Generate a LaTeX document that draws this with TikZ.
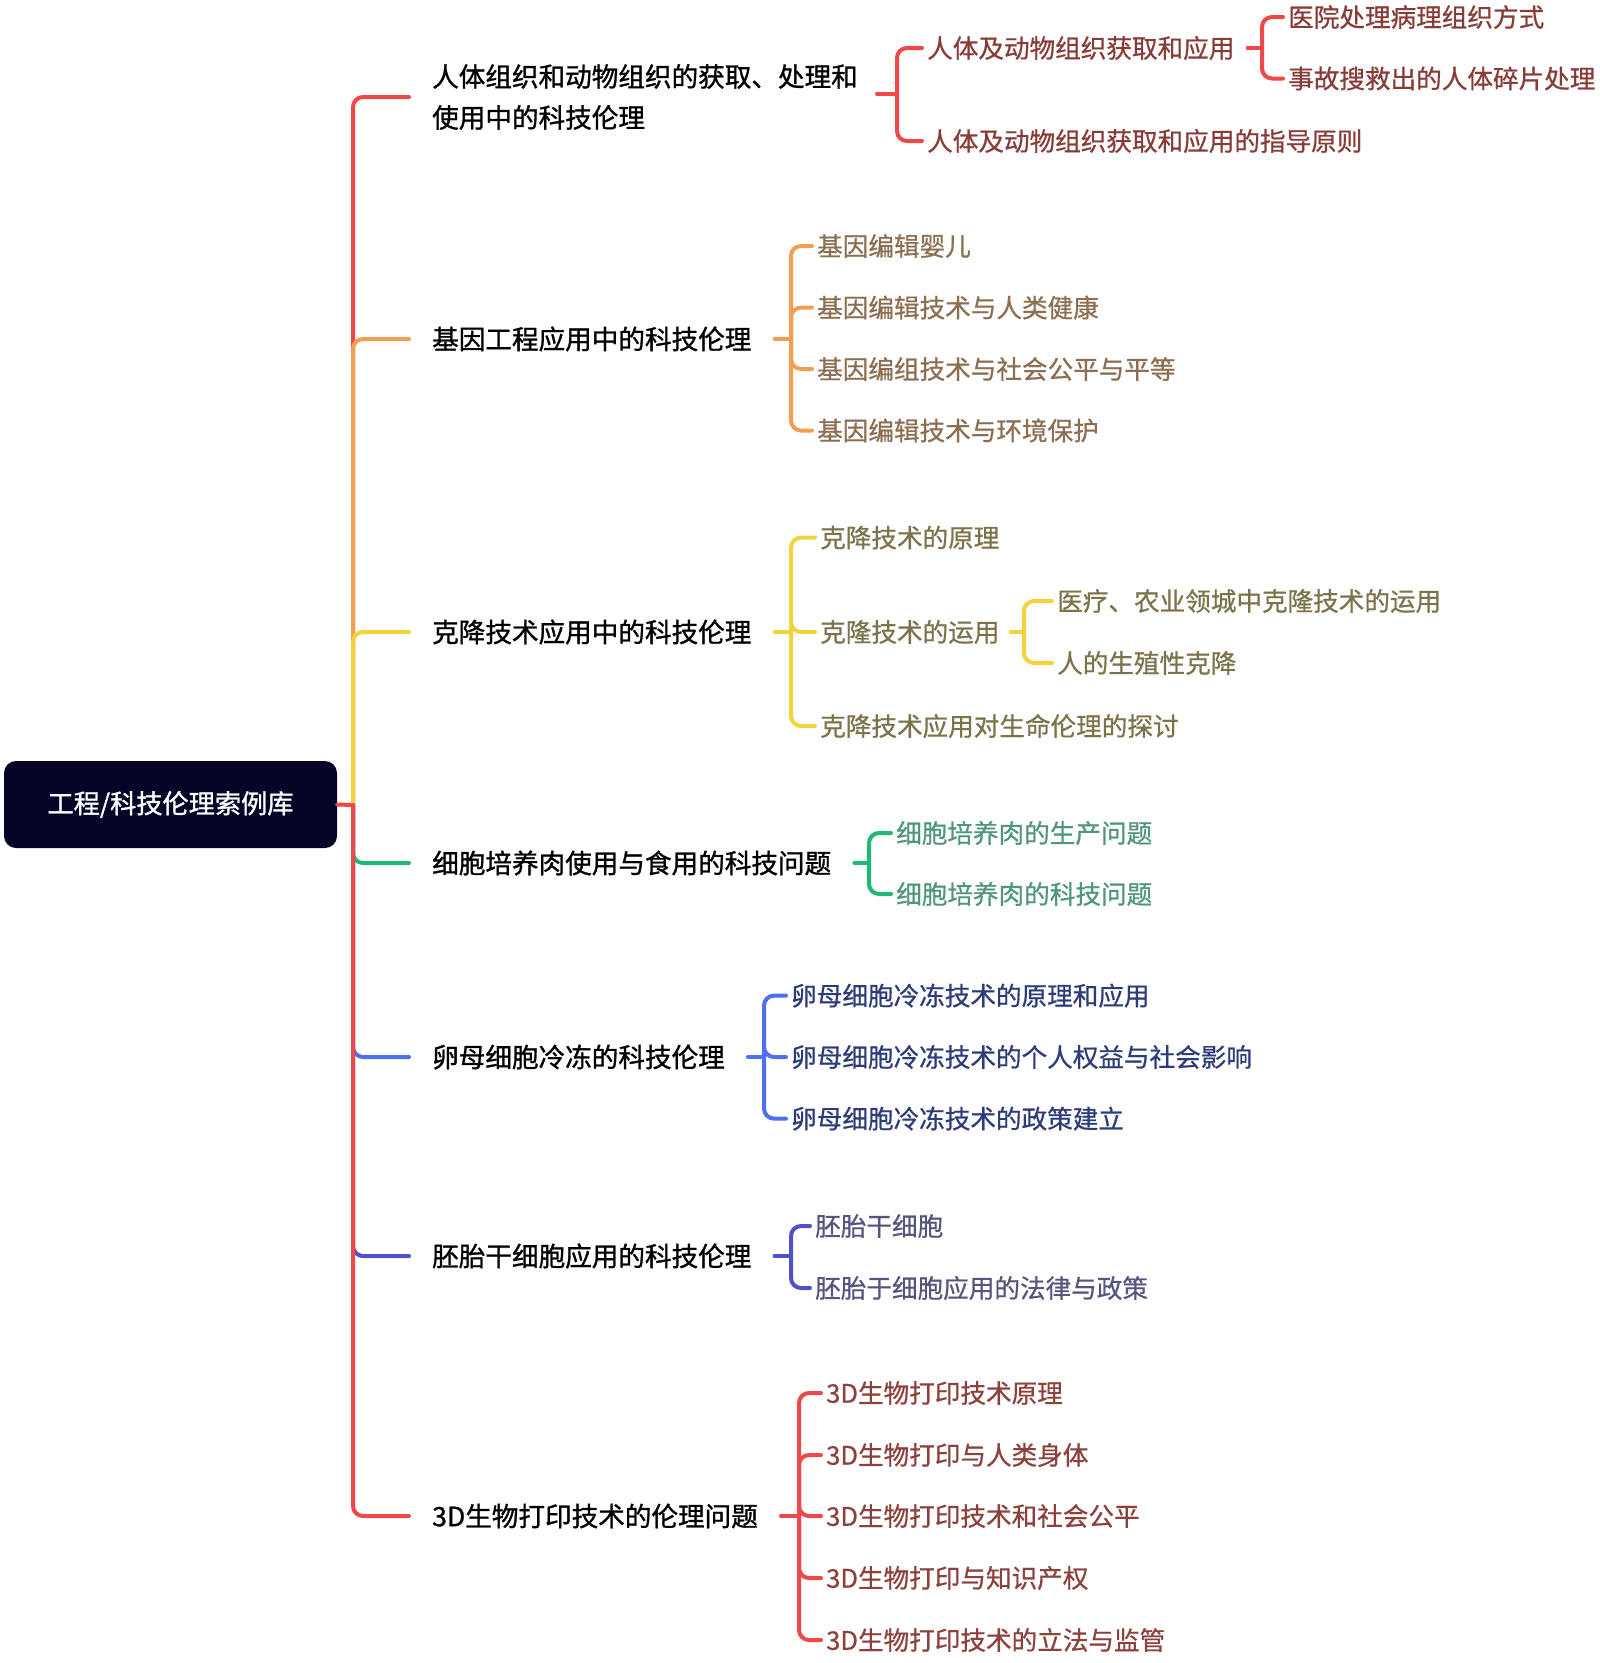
\documentclass[tikz,border=0pt]{standalone}
\usepackage{fontspec}
\newfontfamily\cjkmain{Noto Sans CJK SC}[FakeBold=1.1]
\newfontfamily\cjksub{Noto Sans CJK SC}[FakeBold=0.7]
\definecolor{lred}{HTML}{F04848}
\definecolor{tred}{HTML}{873C37}
\definecolor{lorange}{HTML}{F0A050}
\definecolor{torange}{HTML}{8C6E50}
\definecolor{lyellow}{HTML}{F5D23C}
\definecolor{tyellow}{HTML}{7D734B}
\definecolor{lgreen}{HTML}{1EB973}
\definecolor{tgreen}{HTML}{509678}
\definecolor{lblue}{HTML}{506EF0}
\definecolor{tblue}{HTML}{2D3C78}
\definecolor{lpurple}{HTML}{5050C8}
\definecolor{tpurple}{HTML}{55557D}
\definecolor{tred2}{HTML}{8C413C}
\definecolor{rootc}{HTML}{050528}
\tikzset{
  conn/.style={line width=4, line cap=round, rounded corners=10},
  mainnode/.style={anchor=west, inner xsep=23, inner ysep=2, text=black, align=left,
    font=\cjkmain\fontsize{26.6}{41}\selectfont},
  subnode/.style={anchor=west, inner xsep=5, inner ysep=2,
    font=\cjksub\fontsize{25.6}{30}\selectfont},
  rootnode/.style={fill=rootc, rounded corners=12, minimum width=333, minimum height=87,
    text=white, font=\cjkmain\fontsize{26.2}{30}\selectfont}
}
\begin{document}
\begin{tikzpicture}[x=1pt,y=-1pt]
\useasboundingbox[fill=white] (0,0) rectangle (1600,1663);

% root
\node[rootnode] (root) at (170.5,804.5) {工程/科技伦理索例库};
\coordinate (J) at (353,805);

% main nodes
\node[mainnode] (b1) at (409,97) {人体组织和动物组织的获取、处理和\\使用中的科技伦理};
\node[mainnode] (b2) at (409,339) {基因工程应用中的科技伦理};
\node[mainnode] (b3) at (409,632) {克降技术应用中的科技伦理};
\node[mainnode] (b4) at (409,863) {细胞培养肉使用与食用的科技问题};
\node[mainnode] (b5) at (409,1057) {卵母细胞冷冻的科技伦理};
\node[mainnode] (b6) at (409,1256) {胚胎干细胞应用的科技伦理};
\node[mainnode] (b7) at (409,1516) {3D生物打印技术的伦理问题};

% trunk connectors
\draw[conn, lred] (root.east) -- (J);
\draw[conn, lred] (J) |- (b1.west);
\draw[conn, lorange] (J) |- (b2.west);
\draw[conn, lyellow] (J) |- (b3.west);
\draw[conn, lgreen] (J) |- (b4.west);
\draw[conn, lblue] (J) |- (b5.west);
\draw[conn, lpurple] (J) |- (b6.west);
\draw[conn, lred] (J) |- (b7.west);

% group 1
\coordinate (v1) at (897,94);
\node[subnode, text=tred] (c11) at (922,48) {人体及动物组织获取和应用};
\node[subnode, text=tred] (c12) at (922,141) {人体及动物组织获取和应用的指导原则};
\draw[conn, lred] ([xshift=-4]v1 -| b1.east) -- (v1);
\draw[conn, lred] (v1) |- (c11.west);
\draw[conn, lred] (v1) |- (c12.west);
\coordinate (v11) at (1262,48);
\node[subnode, text=tred] (c111) at (1283,17) {医院处理病理组织方式};
\node[subnode, text=tred] (c112) at (1283,78.5) {事故搜救出的人体碎片处理};
\draw[conn, lred] ([xshift=8]c11.east) -- (v11);
\draw[conn, lred] (v11) |- (c111.west);
\draw[conn, lred] (v11) |- (c112.west);

% group 2
\coordinate (v2) at (791,339);
\node[subnode, text=torange] (c21) at (812,246) {基因编辑婴儿};
\node[subnode, text=torange] (c22) at (812,307.5) {基因编辑技术与人类健康};
\node[subnode, text=torange] (c23) at (812,369) {基因编组技术与社会公平与平等};
\node[subnode, text=torange] (c24) at (812,430.5) {基因编辑技术与环境保护};
\draw[conn, lorange] (b2.east) -- (v2);
\foreach \c in {c21,c22,c23,c24} \draw[conn, lorange] (v2) |- (\c.west);

% group 3
\coordinate (v3) at (791,632);
\node[subnode, text=tyellow] (c31) at (815,537.6) {克降技术的原理};
\node[subnode, text=tyellow] (c32) at (815,632) {克隆技术的运用};
\node[subnode, text=tyellow] (c33) at (815,726) {克降技术应用对生命伦理的探讨};
\draw[conn, lyellow] (b3.east) -- (v3);
\foreach \c in {c31,c32,c33} \draw[conn, lyellow] (v3) |- (\c.west);
\coordinate (v32) at (1024,632);
\node[subnode, text=tyellow] (c321) at (1052,601) {医疗、农业领城中克隆技术的运用};
\node[subnode, text=tyellow] (c322) at (1052,663) {人的生殖性克降};
\draw[conn, lyellow] ([xshift=6]c32.east) -- (v32);
\draw[conn, lyellow] (v32) |- (c321.west);
\draw[conn, lyellow] (v32) |- (c322.west);

% group 4
\coordinate (v4) at (869,863);
\node[subnode, text=tgreen] (c41) at (891,833) {细胞培养肉的生产问题};
\node[subnode, text=tgreen] (c42) at (891,894) {细胞培养肉的科技问题};
\draw[conn, lgreen] (b4.east) -- (v4);
\draw[conn, lgreen] (v4) |- (c41.west);
\draw[conn, lgreen] (v4) |- (c42.west);

% group 5
\coordinate (v5) at (764,1057);
\node[subnode, text=tblue] (c51) at (786,995.6) {卵母细胞冷冻技术的原理和应用};
\node[subnode, text=tblue] (c52) at (786,1057) {卵母细胞冷冻技术的个人权益与社会影响};
\node[subnode, text=tblue] (c53) at (786,1118.6) {卵母细胞冷冻技术的政策建立};
\draw[conn, lblue] (b5.east) -- (v5);
\foreach \c in {c51,c52,c53} \draw[conn, lblue] (v5) |- (\c.west);

% group 6
\coordinate (v6) at (791,1256);
\node[subnode, text=tpurple] (c61) at (810,1226) {胚胎干细胞};
\node[subnode, text=tpurple] (c62) at (810,1288) {胚胎于细胞应用的法律与政策};
\draw[conn, lpurple] (b6.east) -- (v6);
\draw[conn, lpurple] (v6) |- (c61.west);
\draw[conn, lpurple] (v6) |- (c62.west);

% group 7
\coordinate (v7) at (799,1516);
\node[subnode, text=tred2] (c71) at (821,1393) {3D生物打印技术原理};
\node[subnode, text=tred2] (c72) at (821,1455) {3D生物打印与人类身体};
\node[subnode, text=tred2] (c73) at (821,1516) {3D生物打印技术和社会公平};
\node[subnode, text=tred2] (c74) at (821,1578) {3D生物打印与知识产权};
\node[subnode, text=tred2] (c75) at (821,1640) {3D生物打印技术的立法与监管};
\draw[conn, lred] (b7.east) -- (v7);
\foreach \c in {c71,c72,c73,c74,c75} \draw[conn, lred] (v7) |- (\c.west);
\end{tikzpicture}
\end{document}
